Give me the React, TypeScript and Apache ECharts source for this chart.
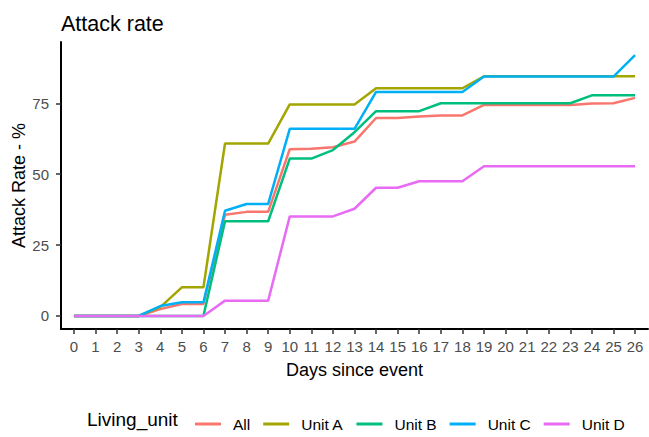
import React, { useEffect, useRef } from "react";
import * as echarts from "echarts";

const days = [0, 1, 2, 3, 4, 5, 6, 7, 8, 9, 10, 11, 12, 13, 14, 15, 16, 17, 18, 19, 20, 21, 22, 23, 24, 25, 26];
const yTicks = [0, 25, 50, 75];
const seriesNames = ["All", "Unit A", "Unit B", "Unit C", "Unit D"];
const seriesColors = ["#F8766D", "#A3A500", "#00BF7D", "#00B0F6", "#E76BF3"];

const allRate = [0, 0, 0, 0, 2.4, 4.2, 4.2, 35.7, 36.7, 36.7, 58.8, 59, 59.5, 61.5, 69.8, 69.8, 70.3, 70.7, 70.7, 74.4, 74.4, 74.4, 74.4, 74.4, 74.9, 75, 76.9];
const unitA = [0, 0, 0, 0, 3.1, 10.1, 10.1, 60.8, 60.8, 60.8, 74.6, 74.6, 74.6, 74.6, 80.3, 80.3, 80.3, 80.3, 80.3, 84.5, 84.5, 84.5, 84.5, 84.5, 84.5, 84.5, 84.5];
const unitB = [0, 0, 0, 0, 0, 0, 0, 33.4, 33.4, 33.4, 55.5, 55.5, 58.5, 64.8, 72.2, 72.2, 72.2, 75, 75, 75, 75, 75, 75, 75, 77.8, 77.8, 77.8];
const unitC = [0, 0, 0, 0, 3.5, 4.8, 4.8, 37.1, 39.5, 39.5, 66, 66, 66, 66, 79, 79, 79, 79, 79, 84.4, 84.4, 84.4, 84.4, 84.4, 84.4, 84.4, 92];
const unitD = [0, 0, 0, 0, 0, 0, 0, 5.4, 5.4, 5.4, 35.1, 35.1, 35.1, 37.8, 45.2, 45.2, 47.5, 47.5, 47.5, 52.8, 52.8, 52.8, 52.8, 52.8, 52.8, 52.8, 52.8];

const seriesValues = [allRate, unitA, unitB, unitC, unitD];
const FONT = "Liberation Sans, Arial, Helvetica, sans-serif";

export default function App() {
  const ref = useRef<HTMLDivElement>(null);
  useEffect(() => {
    if (!ref.current) return;
    const chart = echarts.init(ref.current, null, { renderer: "svg" });
    const allVals = seriesValues.flat();
    const yMaxData = Math.max(...allVals);
    const yMinData = Math.min(...allVals);
    const span = yMaxData - yMinData;
    chart.setOption({
      animation: false,
      backgroundColor: "#ffffff",
      textStyle: { fontFamily: FONT },
      title: {
        text: "Attack rate",
        left: 56,
        top: 8,
        textStyle: { fontFamily: FONT, fontSize: 21.5, fontWeight: "normal", color: "#000000" },
      },
      grid: { left: 61, right: 1, top: 42, bottom: 108, containLabel: false, outerBoundsMode: "none" },
      xAxis: {
        type: "value",
        min: -0.6,
        max: 26.6,
        name: "Days since event",
        nameLocation: "middle",
        nameGap: 32,
        nameMoveOverlap: false,
        nameTextStyle: { fontFamily: FONT, fontSize: 18, color: "#000000" },
        axisLine: { show: true, onZero: false, lineStyle: { color: "#000000", width: 2 } },
        axisTick: { show: true, length: 5, customValues: days, lineStyle: { color: "#333333", width: 1.5 } },
        axisLabel: { customValues: days, margin: 10, fontFamily: FONT, fontSize: 15, color: "#4D4D4D" },
        splitLine: { show: false },
      },
      yAxis: {
        type: "value",
        min: yMinData - span * 0.05,
        max: yMaxData + span * 0.05,
        name: "Attack Rate - %",
        nameLocation: "middle",
        nameGap: 33,
        nameMoveOverlap: false,
        nameTextStyle: { fontFamily: FONT, fontSize: 18, color: "#000000" },
        axisLine: { show: true, onZero: false, lineStyle: { color: "#000000", width: 2 } },
        axisTick: { show: true, length: 5, customValues: yTicks, lineStyle: { color: "#333333", width: 1.5 } },
        axisLabel: { customValues: yTicks, margin: 12, fontFamily: FONT, fontSize: 15, color: "#4D4D4D" },
        splitLine: { show: false },
      },
      legend: {
        data: seriesNames,
        left: 190,
        top: 411,
        orient: "horizontal",
        icon: "rect",
        itemWidth: 26,
        itemHeight: 3,
        itemGap: 13,
        textStyle: { fontFamily: FONT, fontSize: 15.5, color: "#000000", padding: [0, 0, 0, 7] },
      },
      graphic: [
        {
          type: "text",
          left: 87,
          top: 410,
          style: { text: "Living_unit", fontFamily: FONT, fontSize: 19, fill: "#000000" },
        },
      ],
      series: seriesNames.map((name, i) => ({
        name,
        type: "line",
        data: days.map((d, j) => [d, seriesValues[i][j]]),
        showSymbol: false,
        symbol: "none",
        lineStyle: { color: seriesColors[i], width: 2.5 },
        itemStyle: { color: seriesColors[i] },
        color: seriesColors[i],
      })),
    });
    return () => chart.dispose();
  }, []);
  return <div ref={ref} style={{ width: 649, height: 437, position: "absolute", left: 0, top: 0 }} />;
}
